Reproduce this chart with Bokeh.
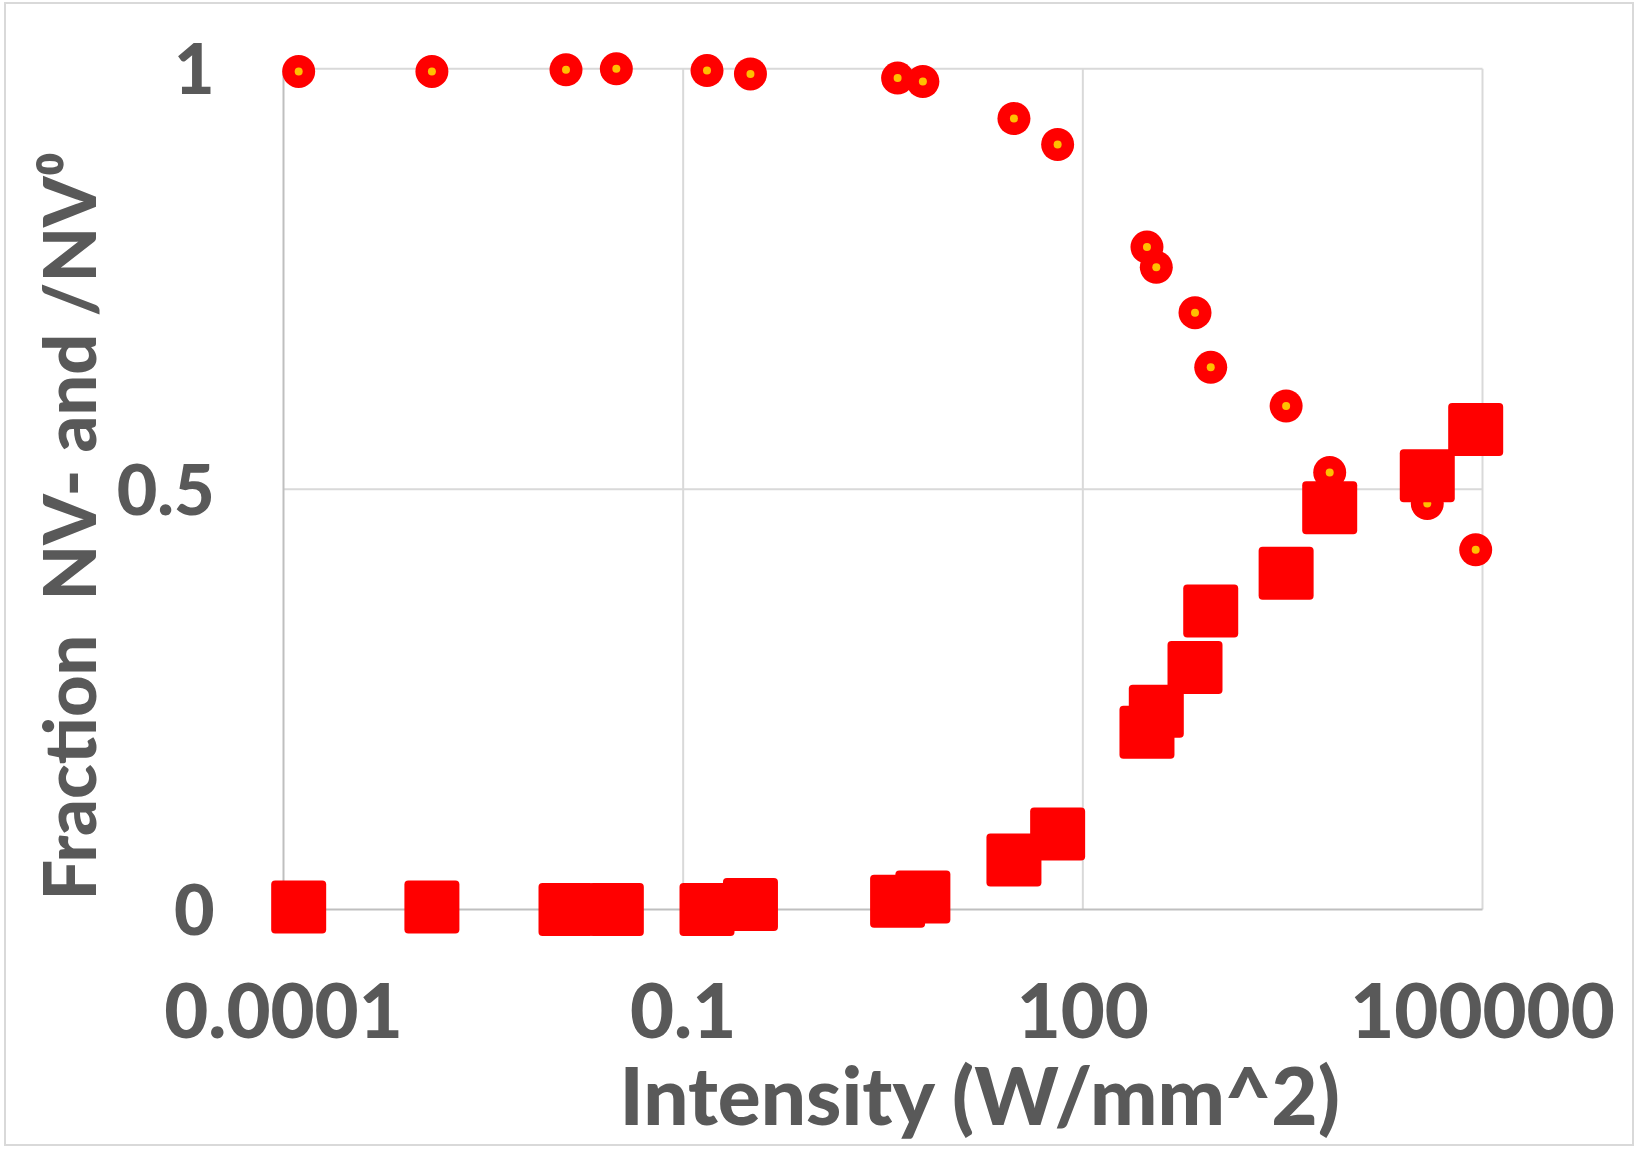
import numpy as np
from bokeh.plotting import figure
from bokeh.models import Range1d, FixedTicker, Title, ColumnDataSource
from bokeh.embed import file_html
from bokeh.resources import INLINE

# ---------------- data ----------------
intensity = [1.3e-4, 1.3e-3, 0.0132, 0.0315, 0.151, 0.32, 4.07, 6.3, 30.4, 64.7,
             303, 356, 695, 912, 3357, 7130, 38500, 88900]
frac_nv_minus = [0.997, 0.997, 0.999, 1.000, 0.998, 0.994, 0.989, 0.985, 0.941, 0.910,
                 0.788, 0.764, 0.710, 0.645, 0.599, 0.520, 0.483, 0.428]
frac_nv_zero = [0.003, 0.003, 0.000, 0.000, 0.000, 0.006, 0.010, 0.015, 0.059, 0.090,
                0.211, 0.236, 0.288, 0.355, 0.400, 0.478, 0.516, 0.571]

x_ticks = [1e-4, 0.1, 100, 1e5]
x_tick_labels = ["0.0001", "0.1", "100", "100000"]
y_ticks = [0, 0.5, 1]
y_tick_labels = ["0", "0.5", "1"]

x_title = "Intensity (W/mm^2)"
y_title = "Fraction \u00a0NV- and /NV\u2070"

# ---------------- layout (page pixels) ----------------
MX, MY, BW = 4, 2, 2                     # css margin and border of the figure
OX, OY = MX + BW, MY + BW                # canvas origin on the page
W, H = 1630, 1144
L, R, T, B = 250, 1520, 40, 950          # frame edges on the page
px_dec = (1482 - 283) / 9.0              # pixels per decade
px_unit = (910 - 68.4)                   # pixels per unit fraction
x0_px, y0_px = 283, 910

x_lo = 10 ** (np.log10(x_ticks[0]) - (x0_px - L) / px_dec)
x_hi = 10 ** (np.log10(x_ticks[0]) + (R - x0_px) / px_dec)
y_lo = -(B - y0_px) / px_unit
y_hi = (y0_px - T) / px_unit

TEXT = "#595959"
GRID = "#D9D9D9"
AXIS = "#BFBFBF"
RED = "#FF0000"
DOT = "#FFC000"
FONT = "Lato Black, Lato"

p = figure(width=W, height=H, x_axis_type="log",
           x_range=Range1d(x_lo, x_hi), y_range=Range1d(y_lo, y_hi),
           output_backend="svg", toolbar_location=None,
           min_border_left=L - OX, min_border_right=W - (L - OX) - (R - L),
           min_border_top=T - OY, min_border_bottom=H - (T - OY) - (B - T))
p.styles = {"border": f"{BW}px solid #D9D9D9", "margin-left": f"{MX}px",
            "margin-top": f"{MY}px"}
p.outline_line_color = None
p.background_fill_color = "white"
p.border_fill_color = "white"
p.xgrid.visible = False
p.ygrid.visible = False

# axes
for ax in (p.xaxis, p.yaxis):
    ax.axis_line_color = None
    ax.major_tick_line_color = None
    ax.minor_tick_line_color = None
    ax.major_tick_in = 0
    ax.major_tick_out = 0
    ax.minor_tick_in = 0
    ax.minor_tick_out = 0
    ax.major_label_text_font = FONT
    ax.major_label_text_font_style = "bold"
    ax.major_label_text_color = TEXT

p.xaxis.ticker = FixedTicker(ticks=x_ticks, minor_ticks=[])
p.xaxis.major_label_overrides = {t: s for t, s in zip(x_ticks, x_tick_labels)}
p.xaxis.major_label_text_font_size = "76px"
p.xaxis.major_label_standoff = 33

p.yaxis.ticker = FixedTicker(ticks=y_ticks, minor_ticks=[])
p.yaxis.major_label_overrides = {t: s for t, s in zip(y_ticks, y_tick_labels)}
p.yaxis.major_label_text_font_size = "70px"
p.yaxis.major_label_standoff = 36

# grid lines confined to the data box
n_v = len(x_ticks) - 1
p.segment(x0=x_ticks[1:], y0=[y_ticks[0]] * n_v, x1=x_ticks[1:], y1=[y_ticks[-1]] * n_v,
          line_color=GRID, line_width=2)
n_h = len(y_ticks) - 1
p.segment(x0=[x_ticks[0]] * n_h, y0=y_ticks[1:], x1=[x_ticks[-1]] * n_h, y1=y_ticks[1:],
          line_color=GRID, line_width=2)
# axis lines
p.segment(x0=[x_ticks[0]], y0=[y_ticks[0]], x1=[x_ticks[0]], y1=[y_ticks[-1]],
          line_color=AXIS, line_width=2)
p.segment(x0=[x_ticks[0]], y0=[y_ticks[0]], x1=[x_ticks[-1]], y1=[y_ticks[0]],
          line_color=AXIS, line_width=2)

# series
src = ColumnDataSource(dict(x=intensity, nvm=frac_nv_minus, nv0=frac_nv_zero))
p.scatter("x", "nvm", source=src, marker="circle", size=33,
          fill_color=RED, line_color=None)
p.scatter("x", "nvm", source=src, marker="circle", size=8,
          fill_color=DOT, line_color=None)
p.rect("x", "nv0", source=src, width=55, height=53, width_units="screen",
       height_units="screen", fill_color=RED, line_color=None, border_radius=4)

# axis titles
xt = Title(text=x_title, align="left", offset=369, vertical_align="top",
           text_font=FONT, text_font_style="bold", text_font_size="80px",
           text_color=TEXT, standoff=10)
p.add_layout(xt, "below")
yt = Title(text=y_title, align="left", offset=49, vertical_align="bottom",
           text_font=FONT, text_font_style="bold", text_font_size="72px",
           text_color=TEXT, standoff=6)
p.add_layout(yt, "left")

open("out.html", "w").write(file_html(p, INLINE))
